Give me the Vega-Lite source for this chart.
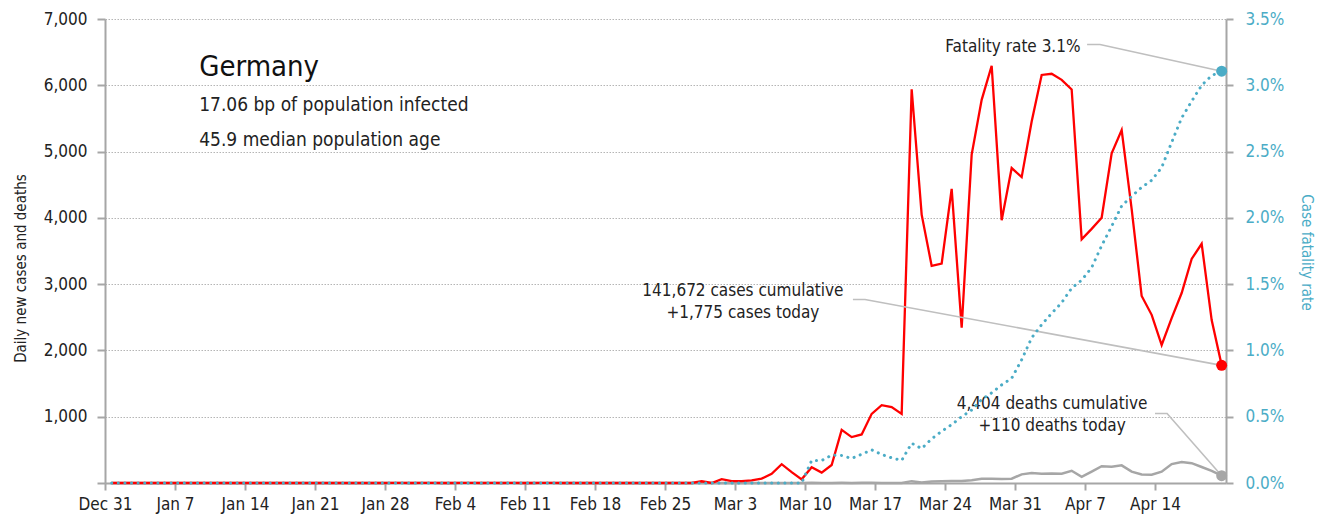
{
  "$schema": "https://vega.github.io/schema/vega-lite/v6.json",
  "width": 1121,
  "height": 464,
  "autosize": {"type": "none"},
  "padding": {"left": 105, "top": 19, "right": 103, "bottom": 40},
  "background": "white",
  "config": {
    "view": {"stroke": null},
    "font": "DejaVu Sans Condensed",
    "axis": {
      "labelFont": "DejaVu Sans Condensed",
      "titleFont": "DejaVu Sans Condensed",
      "labelColor": "#222222",
      "titleColor": "#222222",
      "titleFontWeight": "normal",
      "domainColor": "#A6A6A6",
      "domainWidth": 2,
      "tickColor": "#A6A6A6",
      "tickWidth": 2
    }
  },
  "datasets": {
    "daily": [
      {"d": "2019-12-31T16:00:00", "cases": 0, "deaths": 0, "rate": 0},
      {"d": "2020-01-01T16:00:00", "cases": 0, "deaths": 0, "rate": 0},
      {"d": "2020-01-02T16:00:00", "cases": 0, "deaths": 0, "rate": 0},
      {"d": "2020-01-03T16:00:00", "cases": 0, "deaths": 0, "rate": 0},
      {"d": "2020-01-04T16:00:00", "cases": 0, "deaths": 0, "rate": 0},
      {"d": "2020-01-05T16:00:00", "cases": 0, "deaths": 0, "rate": 0},
      {"d": "2020-01-06T16:00:00", "cases": 0, "deaths": 0, "rate": 0},
      {"d": "2020-01-07T16:00:00", "cases": 0, "deaths": 0, "rate": 0},
      {"d": "2020-01-08T16:00:00", "cases": 0, "deaths": 0, "rate": 0},
      {"d": "2020-01-09T16:00:00", "cases": 0, "deaths": 0, "rate": 0},
      {"d": "2020-01-10T16:00:00", "cases": 0, "deaths": 0, "rate": 0},
      {"d": "2020-01-11T16:00:00", "cases": 0, "deaths": 0, "rate": 0},
      {"d": "2020-01-12T16:00:00", "cases": 0, "deaths": 0, "rate": 0},
      {"d": "2020-01-13T16:00:00", "cases": 0, "deaths": 0, "rate": 0},
      {"d": "2020-01-14T16:00:00", "cases": 0, "deaths": 0, "rate": 0},
      {"d": "2020-01-15T16:00:00", "cases": 0, "deaths": 0, "rate": 0},
      {"d": "2020-01-16T16:00:00", "cases": 0, "deaths": 0, "rate": 0},
      {"d": "2020-01-17T16:00:00", "cases": 0, "deaths": 0, "rate": 0},
      {"d": "2020-01-18T16:00:00", "cases": 0, "deaths": 0, "rate": 0},
      {"d": "2020-01-19T16:00:00", "cases": 0, "deaths": 0, "rate": 0},
      {"d": "2020-01-20T16:00:00", "cases": 0, "deaths": 0, "rate": 0},
      {"d": "2020-01-21T16:00:00", "cases": 0, "deaths": 0, "rate": 0},
      {"d": "2020-01-22T16:00:00", "cases": 0, "deaths": 0, "rate": 0},
      {"d": "2020-01-23T16:00:00", "cases": 0, "deaths": 0, "rate": 0},
      {"d": "2020-01-24T16:00:00", "cases": 0, "deaths": 0, "rate": 0},
      {"d": "2020-01-25T16:00:00", "cases": 0, "deaths": 0, "rate": 0},
      {"d": "2020-01-26T16:00:00", "cases": 0, "deaths": 0, "rate": 0},
      {"d": "2020-01-27T16:00:00", "cases": 0, "deaths": 0, "rate": 0},
      {"d": "2020-01-28T16:00:00", "cases": 1, "deaths": 0, "rate": 0},
      {"d": "2020-01-29T16:00:00", "cases": 3, "deaths": 0, "rate": 0},
      {"d": "2020-01-30T16:00:00", "cases": 0, "deaths": 0, "rate": 0},
      {"d": "2020-01-31T16:00:00", "cases": 1, "deaths": 0, "rate": 0},
      {"d": "2020-02-01T16:00:00", "cases": 2, "deaths": 0, "rate": 0},
      {"d": "2020-02-02T16:00:00", "cases": 0, "deaths": 0, "rate": 0},
      {"d": "2020-02-03T16:00:00", "cases": 0, "deaths": 0, "rate": 0},
      {"d": "2020-02-04T16:00:00", "cases": 2, "deaths": 0, "rate": 0},
      {"d": "2020-02-05T16:00:00", "cases": 1, "deaths": 0, "rate": 0},
      {"d": "2020-02-06T16:00:00", "cases": 0, "deaths": 0, "rate": 0},
      {"d": "2020-02-07T16:00:00", "cases": 1, "deaths": 0, "rate": 0},
      {"d": "2020-02-08T16:00:00", "cases": 0, "deaths": 0, "rate": 0},
      {"d": "2020-02-09T16:00:00", "cases": 2, "deaths": 0, "rate": 0},
      {"d": "2020-02-10T16:00:00", "cases": 0, "deaths": 0, "rate": 0},
      {"d": "2020-02-11T16:00:00", "cases": 0, "deaths": 0, "rate": 0},
      {"d": "2020-02-12T16:00:00", "cases": 2, "deaths": 0, "rate": 0},
      {"d": "2020-02-13T16:00:00", "cases": 1, "deaths": 0, "rate": 0},
      {"d": "2020-02-14T16:00:00", "cases": 0, "deaths": 0, "rate": 0},
      {"d": "2020-02-15T16:00:00", "cases": 0, "deaths": 0, "rate": 0},
      {"d": "2020-02-16T16:00:00", "cases": 0, "deaths": 0, "rate": 0},
      {"d": "2020-02-17T16:00:00", "cases": 0, "deaths": 0, "rate": 0},
      {"d": "2020-02-18T16:00:00", "cases": 0, "deaths": 0, "rate": 0},
      {"d": "2020-02-19T16:00:00", "cases": 0, "deaths": 0, "rate": 0},
      {"d": "2020-02-20T16:00:00", "cases": 0, "deaths": 0, "rate": 0},
      {"d": "2020-02-21T16:00:00", "cases": 0, "deaths": 0, "rate": 0},
      {"d": "2020-02-22T16:00:00", "cases": 0, "deaths": 0, "rate": 0},
      {"d": "2020-02-23T16:00:00", "cases": 0, "deaths": 0, "rate": 0},
      {"d": "2020-02-24T16:00:00", "cases": 0, "deaths": 0, "rate": 0},
      {"d": "2020-02-25T16:00:00", "cases": 0, "deaths": 0, "rate": 0},
      {"d": "2020-02-26T16:00:00", "cases": 2, "deaths": 0, "rate": 0},
      {"d": "2020-02-27T16:00:00", "cases": 0, "deaths": 0, "rate": 0},
      {"d": "2020-02-28T16:00:00", "cases": 26, "deaths": 0, "rate": 0},
      {"d": "2020-02-29T16:00:00", "cases": 0, "deaths": 0, "rate": 0},
      {"d": "2020-03-01T16:00:00", "cases": 57, "deaths": 0, "rate": 0},
      {"d": "2020-03-02T16:00:00", "cases": 28, "deaths": 0, "rate": 0},
      {"d": "2020-03-03T16:00:00", "cases": 28, "deaths": 0, "rate": 0},
      {"d": "2020-03-04T16:00:00", "cases": 39, "deaths": 0, "rate": 0},
      {"d": "2020-03-05T16:00:00", "cases": 66, "deaths": 0, "rate": 0},
      {"d": "2020-03-06T16:00:00", "cases": 138, "deaths": 0, "rate": 0},
      {"d": "2020-03-07T16:00:00", "cases": 284, "deaths": 0, "rate": 0},
      {"d": "2020-03-08T16:00:00", "cases": 163, "deaths": 0, "rate": 0},
      {"d": "2020-03-09T16:00:00", "cases": 55, "deaths": 0, "rate": 0},
      {"d": "2020-03-10T16:00:00", "cases": 237, "deaths": 2, "rate": 0.0017},
      {"d": "2020-03-11T16:00:00", "cases": 157, "deaths": 0, "rate": 0.0017},
      {"d": "2020-03-12T16:00:00", "cases": 271, "deaths": 1, "rate": 0.0021},
      {"d": "2020-03-13T16:00:00", "cases": 802, "deaths": 2, "rate": 0.00207},
      {"d": "2020-03-14T16:00:00", "cases": 693, "deaths": 1, "rate": 0.00185},
      {"d": "2020-03-15T16:00:00", "cases": 733, "deaths": 2, "rate": 0.00217},
      {"d": "2020-03-16T16:00:00", "cases": 1043, "deaths": 4, "rate": 0.0025},
      {"d": "2020-03-17T16:00:00", "cases": 1174, "deaths": 0, "rate": 0.00215},
      {"d": "2020-03-18T16:00:00", "cases": 1144, "deaths": 1, "rate": 0.0019},
      {"d": "2020-03-19T16:00:00", "cases": 1042, "deaths": 1, "rate": 0.0017},
      {"d": "2020-03-20T16:00:00", "cases": 5940, "deaths": 28, "rate": 0.003},
      {"d": "2020-03-21T16:00:00", "cases": 4049, "deaths": 7, "rate": 0.0026},
      {"d": "2020-03-22T16:00:00", "cases": 3276, "deaths": 23, "rate": 0.00333},
      {"d": "2020-03-23T16:00:00", "cases": 3311, "deaths": 27, "rate": 0.0039},
      {"d": "2020-03-24T16:00:00", "cases": 4438, "deaths": 29, "rate": 0.0044},
      {"d": "2020-03-25T16:00:00", "cases": 2342, "deaths": 30, "rate": 0.005},
      {"d": "2020-03-26T16:00:00", "cases": 4954, "deaths": 43, "rate": 0.0055},
      {"d": "2020-03-27T16:00:00", "cases": 5780, "deaths": 65, "rate": 0.0063},
      {"d": "2020-03-28T16:00:00", "cases": 6294, "deaths": 64, "rate": 0.0068},
      {"d": "2020-03-29T16:00:00", "cases": 3965, "deaths": 59, "rate": 0.0074},
      {"d": "2020-03-30T16:00:00", "cases": 4751, "deaths": 64, "rate": 0.0079},
      {"d": "2020-03-31T16:00:00", "cases": 4615, "deaths": 130, "rate": 0.0093},
      {"d": "2020-04-01T16:00:00", "cases": 5453, "deaths": 149, "rate": 0.01095},
      {"d": "2020-04-02T16:00:00", "cases": 6156, "deaths": 140, "rate": 0.01195},
      {"d": "2020-04-03T16:00:00", "cases": 6174, "deaths": 145, "rate": 0.0128},
      {"d": "2020-04-04T16:00:00", "cases": 6082, "deaths": 141, "rate": 0.0136},
      {"d": "2020-04-05T16:00:00", "cases": 5936, "deaths": 184, "rate": 0.0147},
      {"d": "2020-04-06T16:00:00", "cases": 3677, "deaths": 92, "rate": 0.0153},
      {"d": "2020-04-07T16:00:00", "cases": 3834, "deaths": 173, "rate": 0.01625},
      {"d": "2020-04-08T16:00:00", "cases": 4003, "deaths": 254, "rate": 0.0179},
      {"d": "2020-04-09T16:00:00", "cases": 4974, "deaths": 246, "rate": 0.01937},
      {"d": "2020-04-10T16:00:00", "cases": 5323, "deaths": 266, "rate": 0.0209},
      {"d": "2020-04-11T16:00:00", "cases": 4133, "deaths": 171, "rate": 0.02163},
      {"d": "2020-04-12T16:00:00", "cases": 2821, "deaths": 129, "rate": 0.0223},
      {"d": "2020-04-13T16:00:00", "cases": 2537, "deaths": 126, "rate": 0.02283},
      {"d": "2020-04-14T16:00:00", "cases": 2082, "deaths": 170, "rate": 0.0238},
      {"d": "2020-04-15T16:00:00", "cases": 2486, "deaths": 285, "rate": 0.0257},
      {"d": "2020-04-16T16:00:00", "cases": 2866, "deaths": 315, "rate": 0.02754},
      {"d": "2020-04-17T16:00:00", "cases": 3380, "deaths": 299, "rate": 0.0288},
      {"d": "2020-04-18T16:00:00", "cases": 3609, "deaths": 242, "rate": 0.03},
      {"d": "2020-04-19T16:00:00", "cases": 2458, "deaths": 184, "rate": 0.03073},
      {"d": "2020-04-20T16:00:00", "cases": 1775, "deaths": 110, "rate": 0.03106}
    ],
    "ends": [
      {"d": "2020-04-20T16:00:00", "cases": 1775, "deaths": 110, "rate": 0.03106}
    ],
    "leaders": [
      {"g": "f", "o": 1, "d": "2020-04-07T05:00:00", "v": 6615},
      {"g": "f", "o": 2, "d": "2020-04-08T12:00:00", "v": 6615},
      {"g": "f", "o": 3, "d": "2020-04-20T16:00:00", "v": 6212},
      {"g": "c", "o": 1, "d": "2020-03-14T19:00:00", "v": 2768},
      {"g": "c", "o": 2, "d": "2020-03-16T00:00:00", "v": 2768},
      {"g": "c", "o": 3, "d": "2020-04-20T16:00:00", "v": 1775},
      {"g": "x", "o": 1, "d": "2020-04-14T00:00:00", "v": 1048},
      {"g": "x", "o": 2, "d": "2020-04-15T05:00:00", "v": 1048},
      {"g": "x", "o": 3, "d": "2020-04-20T16:00:00", "v": 110}
    ],
    "head": [
      {"t": "Germany", "d": "2020-01-09T10:00:00", "v": 6147, "k": "big"},
      {"t": "17.06 bp of population infected", "d": "2020-01-09T10:00:00", "v": 5609, "k": "small"},
      {"t": "45.9 median population age", "d": "2020-01-09T10:00:00", "v": 5091, "k": "small"}
    ],
    "notes": [
      {"t": "Fatality rate 3.1%", "d": "2020-03-30T19:00:00", "v": 6585},
      {"t": "141,672 cases cumulative", "d": "2020-03-03T19:00:00", "v": 2896},
      {"t": "+1,775 cases today", "d": "2020-03-03T19:00:00", "v": 2572},
      {"t": "4,404 deaths cumulative", "d": "2020-04-03T17:00:00", "v": 1199},
      {"t": "+110 deaths today", "d": "2020-04-03T17:00:00", "v": 867}
    ]
  },
  "encoding": {
    "x": {
      "field": "d",
      "type": "temporal",
      "scale": {"domain": [{"year": 2019, "month": 12, "date": 31}, {"year": 2020, "month": 4, "date": 21, "hours": 2, "minutes": 24}]},
      "axis": {
        "title": null,
        "format": "%b %-d",
        "values": [
          {"year": 2019, "month": 12, "date": 31},
          {"year": 2020, "month": 1, "date": 7},
          {"year": 2020, "month": 1, "date": 14},
          {"year": 2020, "month": 1, "date": 21},
          {"year": 2020, "month": 1, "date": 28},
          {"year": 2020, "month": 2, "date": 4},
          {"year": 2020, "month": 2, "date": 11},
          {"year": 2020, "month": 2, "date": 18},
          {"year": 2020, "month": 2, "date": 25},
          {"year": 2020, "month": 3, "date": 3},
          {"year": 2020, "month": 3, "date": 10},
          {"year": 2020, "month": 3, "date": 17},
          {"year": 2020, "month": 3, "date": 24},
          {"year": 2020, "month": 3, "date": 31},
          {"year": 2020, "month": 4, "date": 7},
          {"year": 2020, "month": 4, "date": 14}
        ],
        "grid": false,
        "labelFontSize": 17,
        "tickSize": 7,
        "labelPadding": 6,
        "labelFlush": false,
        "labelOverlap": false
      }
    }
  },
  "layer": [
    {
      "encoding": {
        "y": {
          "field": "v",
          "type": "quantitative",
          "scale": {"domain": [0, 7000]},
          "axis": {
            "orient": "left",
            "values": [0, 1000, 2000, 3000, 4000, 5000, 6000, 7000],
            "labelExpr": "datum.value == 0 ? '' : format(datum.value, ',')",
            "grid": true,
            "gridColor": "#B5B5B5",
            "gridDash": [1.5, 1.5],
            "gridWidth": 1,
            "labelFontSize": 17,
            "tickSize": 8,
            "labelPadding": 10,
            "title": "Daily new cases and deaths",
            "titleFontSize": 15,
            "titleX": -85,
            "titleY": 249,
            "titleBaseline": "middle",
            "titleAngle": -90
          }
        }
      },
      "layer": [
        {
          "data": {"name": "daily"},
          "transform": [{"fold": ["deaths"], "as": ["k", "v"]}],
          "mark": {"type": "line", "color": "#A6A6A6", "strokeWidth": 2.5}
        },
        {
          "data": {"name": "daily"},
          "transform": [{"fold": ["cases"], "as": ["k", "v"]}],
          "mark": {"type": "line", "color": "#FF0000", "strokeWidth": 2.3}
        },
        {
          "data": {"name": "leaders"},
          "mark": {"type": "line", "color": "#BFBFBF", "strokeWidth": 1.6},
          "encoding": {
            "detail": {"field": "g"},
            "order": {"field": "o"}
          }
        },
        {
          "data": {"name": "ends"},
          "transform": [{"fold": ["deaths"], "as": ["k", "v"]}],
          "mark": {"type": "point", "filled": true, "opacity": 1, "color": "#A6A6A6", "size": 120}
        },
        {
          "data": {"name": "ends"},
          "transform": [{"fold": ["cases"], "as": ["k", "v"]}],
          "mark": {"type": "point", "filled": true, "opacity": 1, "color": "#FF0000", "size": 120}
        },
        {
          "data": {"name": "head"},
          "transform": [{"filter": "datum.k == 'big'"}],
          "mark": {"type": "text", "align": "left", "baseline": "alphabetic", "fontSize": 29, "color": "#111111"},
          "encoding": {"text": {"field": "t"}}
        },
        {
          "data": {"name": "head"},
          "transform": [{"filter": "datum.k == 'small'"}],
          "mark": {"type": "text", "align": "left", "baseline": "alphabetic", "fontSize": 19, "color": "#222222"},
          "encoding": {"text": {"field": "t"}}
        },
        {
          "data": {"name": "notes"},
          "mark": {"type": "text", "align": "center", "baseline": "middle", "fontSize": 17, "color": "#222222"},
          "encoding": {"text": {"field": "t"}}
        }
      ]
    },
    {
      "encoding": {
        "y": {
          "field": "rate",
          "type": "quantitative",
          "scale": {"domain": [0, 0.035]},
          "axis": {
            "orient": "right",
            "values": [0, 0.005, 0.01, 0.015, 0.02, 0.025, 0.03, 0.035],
            "format": ".1%",
            "grid": false,
            "labelColor": "#4BACC6",
            "labelFontSize": 17,
            "tickSize": 7,
            "labelPadding": 12,
            "title": "Case fatality rate",
            "titleColor": "#4BACC6",
            "titleFontSize": 15,
            "titleX": 80,
            "titleY": 233,
            "titleBaseline": "middle",
            "titleAngle": 90
          }
        }
      },
      "layer": [
        {
          "data": {"name": "daily"},
          "mark": {"type": "line", "color": "#4BACC6", "strokeWidth": 3, "strokeDash": [0.1, 6.5], "strokeCap": "round"}
        },
        {
          "data": {"name": "ends"},
          "mark": {"type": "point", "filled": true, "opacity": 1, "color": "#4BACC6", "size": 120}
        }
      ]
    }
  ],
  "resolve": {"scale": {"y": "independent"}}
}
